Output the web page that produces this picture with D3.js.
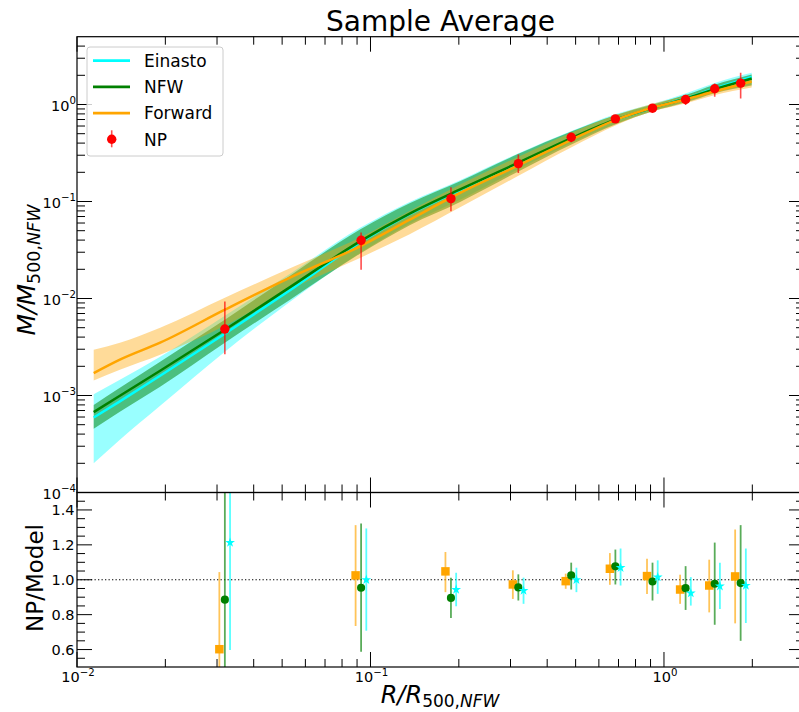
<!DOCTYPE html>
<html>
<head>
<meta charset="utf-8">
<script src="https://cdn.jsdelivr.net/npm/d3@7"></script>
<style>
    body { margin: 0; background: #fff; }
    svg { display: block; font-family: "DejaVu Sans", sans-serif; }
</style>
</head>
<body>
<div id="chart"></div>
<script>
// model curves, sampled off the figure (R/R500 vs M/M500)
const curveR = [0.0114, 0.014, 0.0192, 0.0319, 0.0532, 0.0921, 0.136, 0.202, 0.318, 0.486, 0.686, 0.917, 1.19, 1.48, 1.99];

const einastoMid = [5.93e-4, 8.71e-4, 1.60e-3, 4.33e-3, 0.0122, 0.0379, 0.0741, 0.131, 0.246, 0.446, 0.695, 0.925, 1.167, 1.452, 1.922];
const einastoLo  = [2.0e-4, 3.49e-4, 7.83e-4, 2.83e-3, 9.27e-3, 0.0295, 0.059, 0.104, 0.2135, 0.4055, 0.637, 0.867, 1.074, 1.33, 1.608];
const einastoHi  = [1.03e-3, 1.45e-3, 2.51e-3, 6.65e-3, 0.0180, 0.0535, 0.099, 0.166, 0.3120, 0.535, 0.800, 1.020, 1.31, 1.66, 2.12];

const nfwMid = [6.74e-4, 9.93e-4, 1.80e-3, 4.76e-3, 0.0131, 0.0388, 0.075, 0.133, 0.250, 0.453, 0.700, 0.925, 1.153, 1.428, 1.855];
const nfwLo  = [4.53e-4, 6.79e-4, 1.23e-3, 3.50e-3, 9.72e-3, 0.0290, 0.057, 0.099, 0.203, 0.390, 0.625, 0.850, 1.052, 1.30, 1.57];
const nfwHi  = [8.0e-4, 1.20e-3, 2.23e-3, 6.04e-3, 0.0172, 0.0515, 0.096, 0.162, 0.308, 0.530, 0.780, 1.0, 1.26, 1.59, 2.04];

const forwardMid = [1.70e-3, 2.34e-3, 3.50e-3, 7.66e-3, 0.0164, 0.0345, 0.065, 0.1227, 0.2347, 0.4352, 0.695, 0.931, 1.134, 1.362, 1.727];
const forwardLo  = [1.43e-3, 1.84e-3, 2.63e-3, 5.24e-3, 0.0124, 0.0262, 0.046, 0.087, 0.183, 0.365, 0.612, 0.850, 1.030, 1.245, 1.50];
const forwardHi  = [2.96e-3, 3.5e-3, 5.0e-3, 0.0102, 0.0205, 0.0425, 0.080, 0.150, 0.288, 0.515, 0.780, 1.020, 1.232, 1.49, 1.89];

// non-parametric points
const npR  = [0.0319, 0.0929, 0.188, 0.319, 0.483, 0.683, 0.914, 1.185, 1.489, 1.825];
const npM  = [0.00484, 0.0398, 0.107, 0.246, 0.460, 0.711, 0.916, 1.126, 1.452, 1.66];
const npLo = [0.00267, 0.0198, 0.0792, 0.197, 0.408, 0.67, 0.88, 0.99, 1.20, 1.15];
const npHi = [0.0093, 0.0478, 0.140, 0.305, 0.51, 0.75, 0.95, 1.259, 1.65, 2.12];

// NP / model ratios
const ratioForward   = [0.602, 1.025, 1.048, 0.973, 0.992, 1.063, 1.021, 0.944, 0.967, 1.019];
const ratioForwardLo = [0.30, 0.735, 0.929, 0.89, 0.948, 0.971, 0.919, 0.862, 0.813, 0.75];
const ratioForwardHi = [1.044, 1.313, 1.159, 1.054, 1.035, 1.153, 1.121, 1.029, 1.115, 1.288];

const ratioNfw   = [0.886, 0.954, 0.896, 0.956, 1.025, 1.077, 0.990, 0.952, 0.977, 0.981];
const ratioNfwLo = [0.20, 0.587, 0.781, 0.881, 0.944, 0.973, 0.881, 0.827, 0.742, 0.65];
const ratioNfwHi = [1.60, 1.323, 1.012, 1.031, 1.098, 1.173, 1.098, 1.078, 1.213, 1.313];

const ratioEinasto   = [1.213, 1.0, 0.944, 0.938, 1.0, 1.069, 1.015, 0.923, 0.963, 0.967];
const ratioEinastoLo = [0.598, 0.708, 0.848, 0.862, 0.929, 0.967, 0.919, 0.852, 0.833, 0.752];
const ratioEinastoHi = [1.60, 1.294, 1.04, 1.012, 1.069, 1.179, 1.111, 1.015, 1.098, 1.179];

const xMajor = [0.01, 0.1, 1];
const yTopMajor = [1e-4, 1e-3, 1e-2, 1e-1, 1];
const yTopLabels = ['\u22124', '\u22123', '\u22122', '\u22121', '0'];
const xLabels = ['\u22122', '\u22121', '0'];
const yBotLabels = [0.6, 0.8, 1.0, 1.2, 1.4];

const width = 799, height = 712;
const left = 77, right = 804, topY = 36.7, midY = 492.5, botY = 667;

const svg = d3.select('#chart').append('svg')
    .attr('width', width)
    .attr('height', height);

const x = d3.scaleLog().domain([0.01, 3]).range([left, right]);
const yTop = d3.scaleLog().domain([1e-4, 5]).range([midY, topY]);
const yBot = d3.scaleLinear().domain([0.5, 1.5]).range([botY, midY]);

const defs = svg.append('defs');
defs.append('clipPath').attr('id', 'clipTop')
    .append('rect').attr('x', left).attr('y', topY).attr('width', right - left).attr('height', midY - topY);
defs.append('clipPath').attr('id', 'clipBot')
    .append('rect').attr('x', left).attr('y', midY).attr('width', right - left).attr('height', botY - midY);

// ---------- top panel ----------
const topPanel = svg.append('g').attr('clip-path', 'url(#clipTop)');

function band(lo, hi) {
    return d3.area()
        .x((d, i) => x(curveR[i]))
        .y0((d, i) => yTop(lo[i]))
        .y1((d, i) => yTop(hi[i]))
        .curve(d3.curveMonotoneX)(curveR);
}
function curve(mid) {
    return d3.line()
        .x((d, i) => x(curveR[i]))
        .y((d, i) => yTop(mid[i]))
        .curve(d3.curveMonotoneX)(curveR);
}

topPanel.append('path').attr('d', band(einastoLo, einastoHi)).attr('fill', 'cyan').attr('fill-opacity', 0.4);
topPanel.append('path').attr('d', band(nfwLo, nfwHi)).attr('fill', 'green').attr('fill-opacity', 0.5);
topPanel.append('path').attr('d', band(forwardLo, forwardHi)).attr('fill', 'orange').attr('fill-opacity', 0.4);

topPanel.append('path').attr('d', curve(einastoMid)).attr('fill', 'none').attr('stroke', 'cyan').attr('stroke-width', 2.5);
topPanel.append('path').attr('d', curve(nfwMid)).attr('fill', 'none').attr('stroke', 'green').attr('stroke-width', 2.5);
topPanel.append('path').attr('d', curve(forwardMid)).attr('fill', 'none').attr('stroke', 'orange').attr('stroke-width', 2.5);

const np = topPanel.append('g');
np.selectAll('line')
    .data(npR)
    .enter().append('line')
    .attr('x1', d => x(d)).attr('x2', d => x(d))
    .attr('y1', (d, i) => yTop(npLo[i]))
    .attr('y2', (d, i) => yTop(npHi[i]))
    .attr('stroke', 'red').attr('stroke-opacity', 0.7).attr('stroke-width', 1.6);
np.selectAll('circle')
    .data(npR)
    .enter().append('circle')
    .attr('cx', d => x(d))
    .attr('cy', (d, i) => yTop(npM[i]))
    .attr('r', 4.7)
    .attr('fill', 'red');

// ---------- bottom panel ----------
const botPanel = svg.append('g').attr('clip-path', 'url(#clipBot)');

botPanel.append('line')
    .attr('x1', left).attr('x2', right)
    .attr('y1', yBot(1)).attr('y2', yBot(1))
    .attr('stroke', '#000').attr('stroke-width', 1)
    .attr('stroke-dasharray', '1.3,2.2');

const ratioSets = [
    { mid: ratioForward, lo: ratioForwardLo, hi: ratioForwardHi, color: 'orange', shift: -5.5, marker: 'square' },
    { mid: ratioNfw, lo: ratioNfwLo, hi: ratioNfwHi, color: 'green', shift: 0, marker: 'circle' },
    { mid: ratioEinasto, lo: ratioEinastoLo, hi: ratioEinastoHi, color: 'cyan', shift: 5.2, marker: 'star' }
];

ratioSets.forEach(s => {
    const g = botPanel.append('g');
    g.selectAll('line')
        .data(npR)
        .enter().append('line')
        .attr('x1', d => x(d) + s.shift).attr('x2', d => x(d) + s.shift)
        .attr('y1', (d, i) => yBot(s.lo[i]))
        .attr('y2', (d, i) => yBot(s.hi[i]))
        .attr('stroke', s.color).attr('stroke-opacity', 0.65).attr('stroke-width', 1.8);

    const sym = s.marker === 'square' ? d3.symbolSquare : s.marker === 'star' ? d3.symbolStar : d3.symbolCircle;
    const size = s.marker === 'square' ? 72 : s.marker === 'star' ? 30 : 52;
    g.selectAll('path')
        .data(npR)
        .enter().append('path')
        .attr('d', d3.symbol().type(sym).size(size))
        .attr('transform', (d, i) => `translate(${x(d) + s.shift},${yBot(s.mid[i])})`)
        .attr('fill', s.color);
});

// ---------- frames and ticks ----------
const frame = svg.append('g');
[[topY, midY], [midY, botY]].forEach(([a, b]) => {
    frame.append('rect')
        .attr('x', left).attr('y', a)
        .attr('width', right - left).attr('height', b - a)
        .attr('fill', 'none').attr('stroke', '#000').attr('stroke-width', 1.2);
});

const MAJ = 15, MIN = 8;
const ticks = svg.append('g').attr('stroke', '#000').attr('stroke-width', 1);

function logMinors(lo, hi) {
    const out = [];
    for (let e = Math.floor(Math.log10(lo)); e <= Math.ceil(Math.log10(hi)); e++) {
        for (let m = 2; m <= 9; m++) {
            const v = m * Math.pow(10, e);
            if (v > lo && v < hi) out.push(v);
        }
    }
    return out;
}

function xTicks(y0, dir) {
    xMajor.forEach(v => {
        ticks.append('line').attr('x1', x(v)).attr('x2', x(v)).attr('y1', y0).attr('y2', y0 + dir * MAJ);
    });
    logMinors(0.01, 3).forEach(v => {
        ticks.append('line').attr('x1', x(v)).attr('x2', x(v)).attr('y1', y0).attr('y2', y0 + dir * MIN);
    });
}
xTicks(topY, 1);
xTicks(midY, -1);
xTicks(midY, 1);
xTicks(botY, -1);

function yTicks(scale, majors, minors) {
    majors.forEach(v => {
        ticks.append('line').attr('x1', left).attr('x2', left + MAJ).attr('y1', scale(v)).attr('y2', scale(v));
        ticks.append('line').attr('x1', right).attr('x2', right - MAJ).attr('y1', scale(v)).attr('y2', scale(v));
    });
    minors.forEach(v => {
        ticks.append('line').attr('x1', left).attr('x2', left + MIN).attr('y1', scale(v)).attr('y2', scale(v));
        ticks.append('line').attr('x1', right).attr('x2', right - MIN).attr('y1', scale(v)).attr('y2', scale(v));
    });
}
yTicks(yTop, yTopMajor, logMinors(1e-4, 5));
const botMinor = d3.range(0.55, 1.5, 0.05).filter(v => !yBotLabels.some(m => Math.abs(m - v) < 1e-6));
yTicks(yBot, yBotLabels, botMinor);

// ---------- tick labels ----------
const labels = svg.append('g').attr('fill', '#000').attr('font-size', 14.5);

function powText(sel, exp) {
    sel.append('tspan').text('10');
    sel.append('tspan').attr('dy', -6.5).attr('font-size', 10.2).text(exp);
}

yTopMajor.forEach((v, i) => {
    const t = labels.append('text')
        .attr('x', 76).attr('y', yTop(v) + 6)
        .attr('text-anchor', 'end');
    powText(t, yTopLabels[i]);
});

yBotLabels.forEach(v => {
    labels.append('text')
        .attr('x', 74.5).attr('y', yBot(v) + 5.3)
        .attr('text-anchor', 'end')
        .text(v.toFixed(1));
});

xMajor.forEach((v, i) => {
    const t = labels.append('text')
        .attr('x', x(v) + 1).attr('y', 682)
        .attr('text-anchor', 'middle');
    powText(t, xLabels[i]);
});

// ---------- titles ----------
svg.append('text')
    .attr('x', (left + right) / 2).attr('y', 31)
    .attr('text-anchor', 'middle')
    .attr('font-size', 28)
    .text('Sample Average');

const xt = svg.append('text')
    .attr('x', 440).attr('y', 703)
    .attr('text-anchor', 'middle')
    .attr('font-size', 24);
xt.append('tspan').attr('font-style', 'italic').text('R/R');
xt.append('tspan').attr('font-size', 17).attr('dy', 4).text('500,');
xt.append('tspan').attr('font-size', 17).attr('font-style', 'italic').text('NFW');

const yt = svg.append('text')
    .attr('transform', 'translate(35,270) rotate(-90)')
    .attr('text-anchor', 'middle')
    .attr('font-size', 25);
yt.append('tspan').attr('font-style', 'italic').text('M/M');
yt.append('tspan').attr('font-size', 17.5).attr('dy', 4.5).text('500,');
yt.append('tspan').attr('font-size', 17.5).attr('font-style', 'italic').text('NFW');

svg.append('text')
    .attr('transform', 'translate(43,578) rotate(-90)')
    .attr('text-anchor', 'middle')
    .attr('font-size', 23)
    .text('NP/Model');

// ---------- legend ----------
const legend = svg.append('g');
legend.append('rect')
    .attr('x', 87).attr('y', 47)
    .attr('width', 136).attr('height', 109)
    .attr('rx', 3)
    .attr('fill', '#fff').attr('fill-opacity', 0.8)
    .attr('stroke', '#ccc').attr('stroke-width', 1);

const legendItems = [
    { label: 'Einasto', color: 'cyan' },
    { label: 'NFW', color: 'green' },
    { label: 'Forward', color: 'orange' },
    { label: 'NP', color: 'red', point: true }
];

const entry = legend.selectAll('.legend-item')
    .data(legendItems)
    .enter().append('g')
    .attr('class', 'legend-item')
    .attr('transform', (d, i) => `translate(0, ${60.7 + i * 26.2})`);

entry.filter(d => !d.point).append('line')
    .attr('x1', 93).attr('x2', 130)
    .attr('stroke', d => d.color).attr('stroke-width', 2.8);

const npEntry = entry.filter(d => d.point);
npEntry.append('line')
    .attr('x1', 111.7).attr('x2', 111.7).attr('y1', -9).attr('y2', 8)
    .attr('stroke', 'red').attr('stroke-opacity', 0.7).attr('stroke-width', 1.6);
npEntry.append('circle')
    .attr('cx', 111.7).attr('r', 4.7).attr('fill', 'red');

entry.append('text')
    .attr('x', 144).attr('y', 6.2)
    .attr('font-size', 17)
    .text(d => d.label);
</script>
</body>
</html>
